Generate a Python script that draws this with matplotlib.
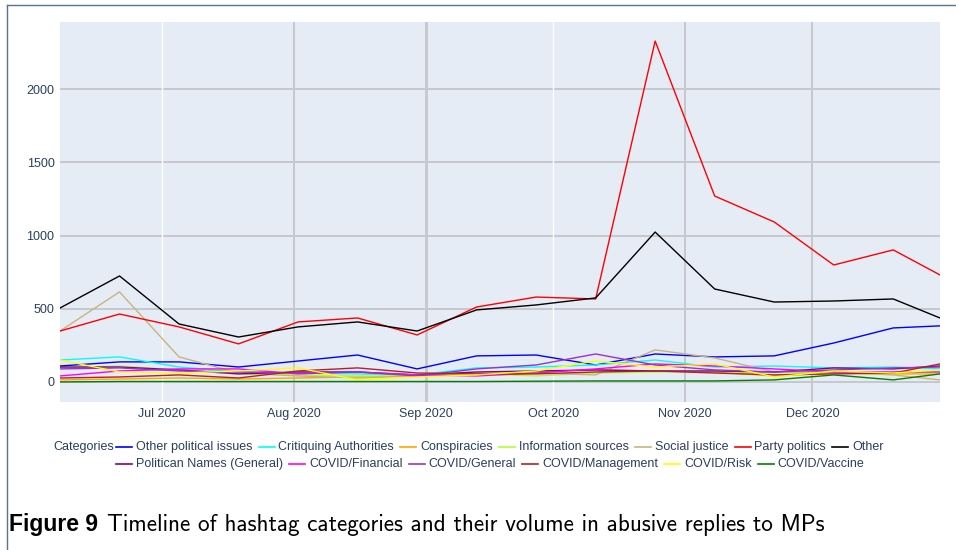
import numpy as np
import matplotlib
matplotlib.use('Agg')
import matplotlib.pyplot as plt
import matplotlib.dates as mdates
from matplotlib.lines import Line2D

# biweekly sample dates
dates = np.array(['2020-06-07', '2020-06-21', '2020-07-05', '2020-07-19', '2020-08-02',
                  '2020-08-16', '2020-08-30', '2020-09-13', '2020-09-27', '2020-10-11',
                  '2020-10-25', '2020-11-08', '2020-11-22', '2020-12-06', '2020-12-20',
                  '2020-12-31'], dtype='datetime64[D]')

other_political = [109, 137, 137, 102, 143, 184, 89, 178, 184, 116, 191, 171, 178, 266, 369, 383]
critiquing = [150, 171, 102, 68, 61, 55, 48, 96, 102, 116, 150, 102, 109, 96, 102, 89]
conspiracies = [14, 20, 27, 20, 27, 34, 41, 55, 68, 82, 75, 68, 41, 61, 55, 55]
info_sources = [96, 109, 82, 55, 48, 41, 41, 55, 41, 61, 68, 75, 48, 68, 68, 61]
social_justice = [348, 615, 171, 61, 41, 27, 41, 61, 61, 48, 219, 164, 68, 68, 48, 14]
party_politics = [348, 464, 376, 260, 410, 437, 321, 512, 580, 567, 2329, 1270, 1093, 799, 902, 731]
other = [505, 724, 396, 307, 376, 410, 348, 492, 526, 574, 1024, 635, 546, 553, 567, 437]
politician_names = [102, 102, 82, 55, 68, 68, 48, 68, 75, 82, 75, 75, 68, 96, 89, 109]
covid_financial = [41, 75, 89, 89, 55, 68, 48, 41, 61, 89, 123, 109, 89, 68, 68, 68]
covid_general = [89, 96, 75, 68, 61, 68, 41, 89, 116, 191, 116, 82, 68, 82, 96, 102]
covid_management = [27, 34, 48, 27, 75, 96, 61, 55, 55, 68, 75, 61, 48, 55, 61, 123]
covid_risk = [150, 68, 61, 75, 96, 14, 34, 48, 75, 143, 102, 123, 34, 75, 61, 82]
covid_vaccine = [0, 3, 3, 3, 3, 3, 3, 3, 5, 7, 7, 7, 14, 48, 14, 55]

series = [
    ('Other political issues', other_political, '#0000ff'),
    ('Critiquing Authorities', critiquing, '#00ffff'),
    ('Conspiracies', conspiracies, '#ffa500'),
    ('Information sources', info_sources, '#adff2f'),
    ('Social justice', social_justice, '#c8b47a'),
    ('Party politics', party_politics, '#ff0000'),
    ('Other', other, '#000000'),
    ('Politican Names (General)', politician_names, '#800080'),
    ('COVID/Financial', covid_financial, '#ff00ff'),
    ('COVID/General', covid_general, '#9932cc'),
    ('COVID/Management', covid_management, '#b22222'),
    ('COVID/Risk', covid_risk, '#ffff00'),
    ('COVID/Vaccine', covid_vaccine, '#008000'),
]
row_split = 7

W, H = 956, 550
TXT = '#2a3f5f'
FS = 9.0
plt.rcParams['font.family'] = ['Liberation Sans', 'DejaVu Sans']

fig = plt.figure(figsize=(W / 100, H / 100), dpi=100)


def px(x, y):
    return x / W, 1 - y / H


ax = fig.add_axes([60 / W, 1 - 402 / H, 880 / W, 380 / H])
ax.set_facecolor('#e5ecf6')
for s in ax.spines.values():
    s.set_visible(False)

for name, vals, col in series:
    ax.plot(dates, vals, color=col, lw=1.0, zorder=3)

ax.set_xlim(np.datetime64('2020-06-07'), np.datetime64('2020-12-31'))
ax.set_ylim(-137, 2459)
ax.set_yticks([0, 500, 1000, 1500, 2000])
months = np.array(['2020-07-01', '2020-08-01', '2020-09-01', '2020-10-01',
                   '2020-11-01', '2020-12-01'], dtype='datetime64[D]')
ax.set_xticks(months)
ax.xaxis.set_major_formatter(mdates.DateFormatter('%b %Y'))
ax.tick_params(length=0, labelsize=FS, labelcolor=TXT, pad=4)

# grid: horizontal grey, vertical mix of white and grey
for yv in [0, 500, 1000, 1500, 2000]:
    ax.axhline(yv, color='#c6c8cc', lw=1.4, zorder=1)
grey_months = [1, 2, 4, 5]
for i, m in enumerate(months):
    if i in grey_months:
        ax.axvline(m, color='#c6c8cc', lw=1.4 if i != 2 else 2.0, zorder=1)
    else:
        ax.axvline(m, color='white', lw=1.0, zorder=1)

# legend drawn by hand, plotly style
fig.canvas.draw()
r = fig.canvas.get_renderer()
fig.text(*px(53, 447), 'Categories', fontsize=FS, color=TXT, va='center')
rows = [series[:row_split], series[row_split:]]
for ri, row in enumerate(rows):
    yl = 447 + ri * 17
    x = 116
    for name, vals, col in row:
        fig.add_artist(Line2D([x / W, (x + 16) / W], [1 - yl / H, 1 - yl / H],
                              color=col, lw=1.2, transform=fig.transFigure))
        tt = fig.text(*px(x + 20, yl), name, fontsize=FS, color=TXT, va='center')
        x = x + 20 + tt.get_window_extent(r).width + 6

# outer frame
fig.add_artist(Line2D([7 / W, 7 / W], [0, 1 - 5 / H], color='#5a7394', lw=1.0,
                      transform=fig.transFigure))
fig.add_artist(Line2D([7 / W, 1], [1 - 5 / H, 1 - 5 / H], color='#5a7394', lw=1.0,
                      transform=fig.transFigure))

# caption
cap1 = fig.text(*px(9, 525), 'Figure 9', fontsize=16.5, fontweight='bold', color='black',
                va='center')
x2 = 9 + cap1.get_window_extent(r).width + 9
fig.text(*px(x2, 525), 'Timeline of hashtag categories and their volume in abusive replies to MPs',
         fontsize=16.7, color='black', va='center', family=['cmss10', 'DejaVu Sans'])

fig.savefig('out.png', dpi=100)
